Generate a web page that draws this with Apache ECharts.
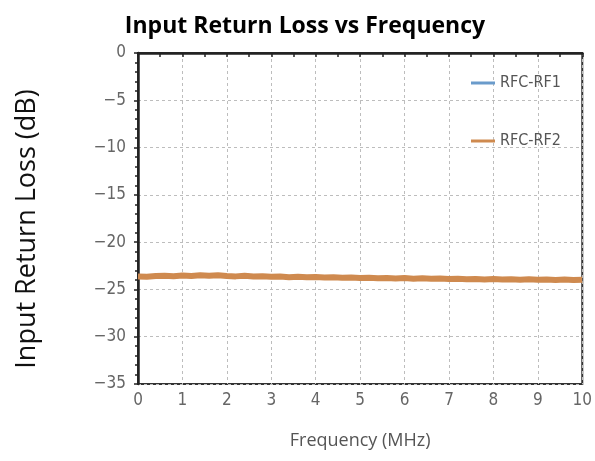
<!DOCTYPE html>
<html>
<head>
<meta charset="utf-8">
<script src="https://cdn.jsdelivr.net/npm/echarts@6/dist/echarts.min.js"></script>
<style>
  html, body { margin: 0; padding: 0; background: #fff; }
  #chart { width: 595px; height: 461px; }
</style>
</head>
<body>
<div id="chart"></div>
<script>
// Frequency sweep points (MHz)
const freqMHz = [
  0.0, 0.2, 0.4, 0.6, 0.8, 1.0, 1.2, 1.4, 1.6, 1.8, 2.0,
  2.2, 2.4, 2.6, 2.8, 3.0, 3.2, 3.4, 3.6, 3.8, 4.0,
  4.2, 4.4, 4.6, 4.8, 5.0, 5.2, 5.4, 5.6, 5.8, 6.0,
  6.2, 6.4, 6.6, 6.8, 7.0, 7.2, 7.4, 7.6, 7.8, 8.0,
  8.2, 8.4, 8.6, 8.8, 9.0, 9.2, 9.4, 9.6, 9.8, 10.0
];

// Return loss, RFC-RF1 path (dB)
const rf1Loss = [
  -23.64, -23.67, -23.60, -23.57, -23.62, -23.55, -23.59, -23.52, -23.57, -23.54, -23.60,
  -23.64, -23.59, -23.66, -23.62, -23.69, -23.65, -23.71, -23.68, -23.73, -23.70,
  -23.75, -23.73, -23.78, -23.75, -23.80, -23.78, -23.82, -23.80, -23.85, -23.82,
  -23.87, -23.85, -23.89, -23.87, -23.91, -23.89, -23.93, -23.91, -23.95, -23.92,
  -23.96, -23.94, -23.98, -23.95, -23.99, -23.96, -24.01, -23.98, -24.02, -23.99
];

// Return loss, RFC-RF2 path (dB)
const rf2Loss = [
  -23.62, -23.66, -23.58, -23.55, -23.60, -23.52, -23.57, -23.49, -23.55, -23.51, -23.58,
  -23.62, -23.56, -23.64, -23.60, -23.67, -23.63, -23.70, -23.66, -23.72, -23.68,
  -23.74, -23.71, -23.77, -23.73, -23.79, -23.76, -23.81, -23.78, -23.84, -23.80,
  -23.86, -23.83, -23.88, -23.85, -23.90, -23.87, -23.92, -23.89, -23.94, -23.90,
  -23.95, -23.92, -23.97, -23.93, -23.98, -23.94, -24.00, -23.96, -24.01, -23.97
];

const seriesNames = ['RFC-RF1', 'RFC-RF2'];
const titleText = 'Input Return Loss vs Frequency';
const xAxisTitle = 'Frequency (MHz)';
const yAxisTitle = 'Input Return Loss (dB)';

const pair = (xs, ys) => xs.map((x, i) => [x, ys[i]]);
const narrow = '"Liberation Sans Narrow", "DejaVu Sans Condensed", "Liberation Sans", sans-serif';

const chart = echarts.init(document.getElementById('chart'), null, { renderer: 'canvas' });

chart.setOption({
  backgroundColor: '#ffffff',
  animation: false,
  title: {
    text: titleText,
    left: 300,
    textAlign: 'center',
    top: 10,
    textStyle: {
      fontFamily: '"Open Sans", sans-serif',
      fontWeight: 'bold',
      fontSize: 23,
      color: '#000'
    }
  },
  graphic: [{
    type: 'text',
    x: 27,
    y: 229,
    rotation: Math.PI / 2,
    style: {
      text: yAxisTitle,
      fontFamily: '"Open Sans", sans-serif',
      fontSize: 27,
      fill: '#111',
      align: 'center',
      verticalAlign: 'middle'
    }
  }],
  legend: {
    orient: 'vertical',
    left: 466,
    top: 70,
    itemWidth: 24,
    itemHeight: 3,
    itemGap: 42,
    icon: 'rect',
    data: seriesNames,
    textStyle: {
      fontFamily: narrow,
      fontSize: 16,
      color: '#555'
    }
  },
  grid: {
    left: 138,
    right: 12,
    top: 53,
    bottom: 77,
    show: true,
    borderColor: '#333',
    borderWidth: 2,
    containLabel: false
  },
  xAxis: {
    type: 'value',
    min: 0,
    max: 10,
    interval: 1,
    name: xAxisTitle,
    nameLocation: 'middle',
    nameGap: 48,
    nameTextStyle: {
      fontFamily: '"Open Sans", sans-serif',
      fontSize: 18,
      color: '#555'
    },
    axisLine: { show: true, lineStyle: { color: '#222', width: 2.5 } },
    axisTick: { show: true, length: 4, lineStyle: { color: '#222', width: 1.5 } },
    minorTick: { show: true, splitNumber: 2, length: 4, lineStyle: { color: '#222', width: 1.5 } },
    axisLabel: {
      margin: 8,
      fontFamily: narrow,
      fontSize: 17,
      color: '#666'
    },
    splitLine: { show: true, lineStyle: { color: '#bdbdbd', type: [3, 3], width: 1 } }
  },
  yAxis: {
    type: 'value',
    min: -35,
    max: 0,
    interval: 5,
    axisLine: { show: true, onZero: false, lineStyle: { color: '#222', width: 2.5 } },
    axisTick: { show: true, length: 4, lineStyle: { color: '#222', width: 1.5 } },
    minorTick: { show: true, splitNumber: 5, length: 3, lineStyle: { color: '#222', width: 1.5 } },
    axisLabel: {
      margin: 12,
      fontFamily: narrow,
      fontSize: 17,
      color: '#666',
      formatter: v => String(v).replace('-', '\u2212')
    },
    splitLine: { show: true, lineStyle: { color: '#bdbdbd', type: [3, 3], width: 1 } }
  },
  series: [
    {
      name: seriesNames[0],
      type: 'line',
      data: pair(freqMHz, rf1Loss),
      showSymbol: false,
      color: '#6a9bcb',
      lineStyle: { width: 4, color: '#6a9bcb' }
    },
    {
      name: seriesNames[1],
      type: 'line',
      data: pair(freqMHz, rf2Loss),
      showSymbol: false,
      color: '#cf8a4f',
      lineStyle: { width: 6, color: '#cf8a4f' }
    }
  ]
});
</script>
</body>
</html>
